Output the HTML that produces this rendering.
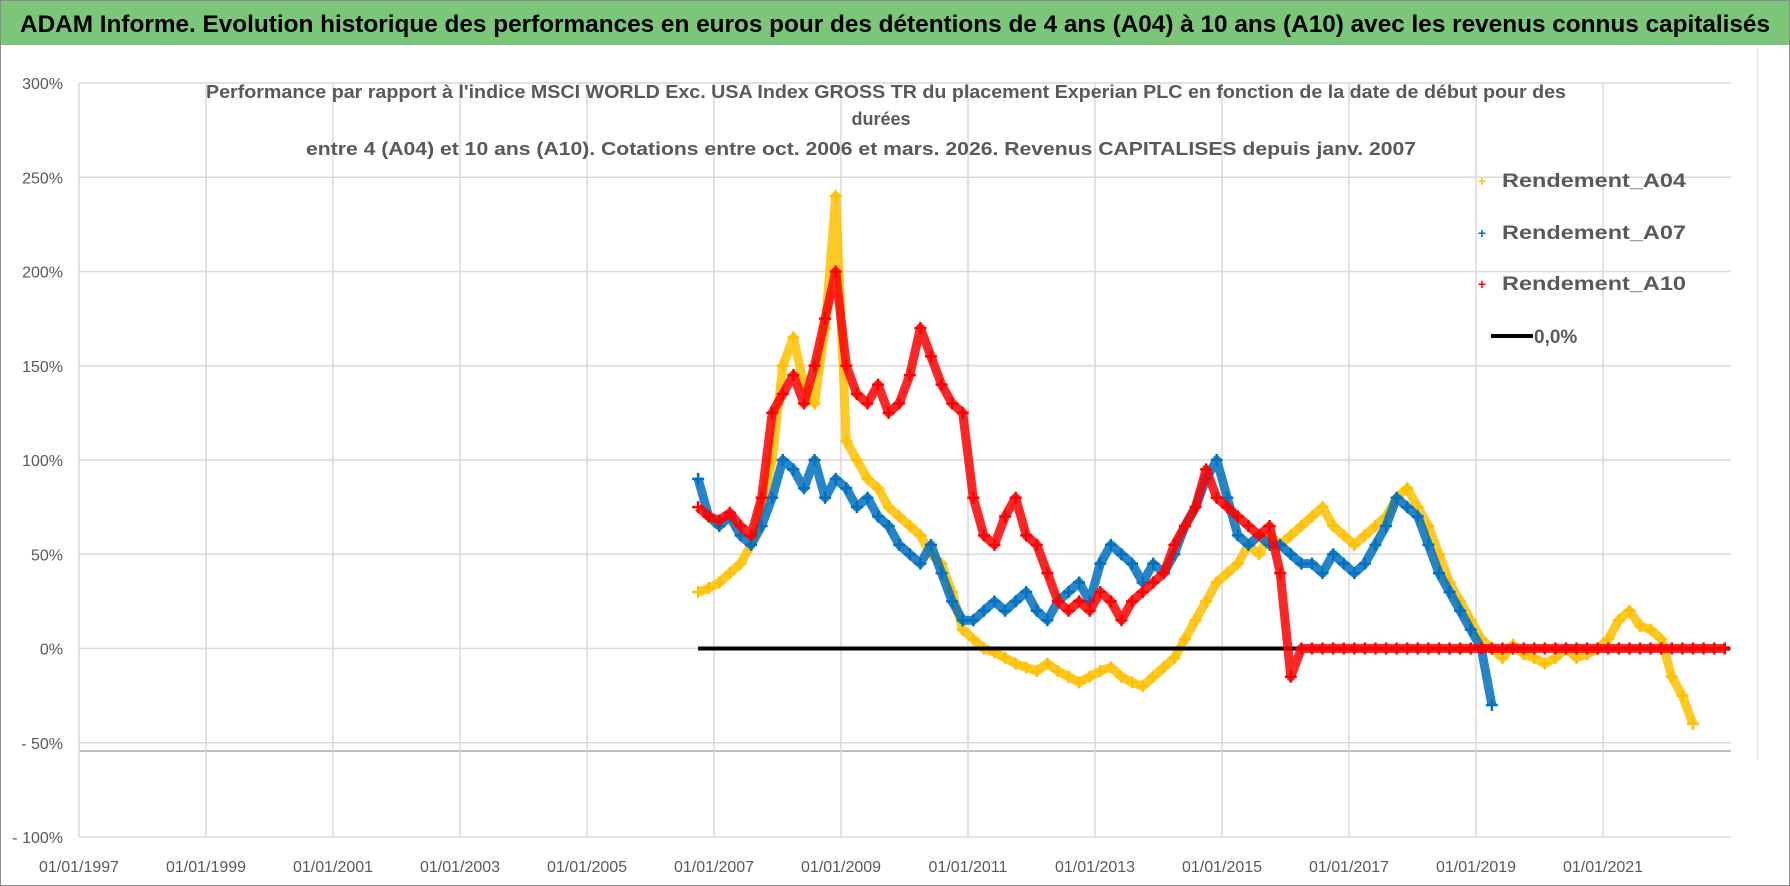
<!DOCTYPE html>
<html><head><meta charset="utf-8"><style>
html,body{margin:0;padding:0;background:#fff}
svg{display:block}
</style></head><body>
<svg id="chart" width="1790" height="886" viewBox="0 0 1790 886" xmlns="http://www.w3.org/2000/svg" font-family="'Liberation Sans', sans-serif">
<rect x="0.5" y="0.5" width="1789" height="885" fill="#fff" stroke="#8c8c8c"/>
<rect x="1" y="1" width="1788" height="44" fill="#7cc67a"/>
<text x="895" y="32" text-anchor="middle" font-size="24" font-weight="bold" fill="#000" textLength="1750" lengthAdjust="spacingAndGlyphs">ADAM Informe. Evolution historique des performances en euros pour des détentions de 4 ans (A04) à 10 ans (A10) avec les revenus connus capitalisés</text>
<line x1="1758" y1="48" x2="1758" y2="760" stroke="#d9d9d9"/>
<g id="grid"></g>
<g id="ylabels"></g>
<g id="xlabels"></g>
<text x="886" y="98" text-anchor="middle" font-size="18" font-weight="bold" fill="#595959" textLength="1360" lengthAdjust="spacingAndGlyphs">Performance par rapport à l'indice MSCI WORLD Exc. USA Index GROSS TR  du placement Experian PLC en fonction de la date de début pour des</text>
<text x="881" y="125" text-anchor="middle" font-size="18" font-weight="bold" fill="#595959">durées</text>
<text x="861" y="155" text-anchor="middle" font-size="18" font-weight="bold" fill="#595959" textLength="1110" lengthAdjust="spacingAndGlyphs">entre 4 (A04) et 10 ans (A10). Cotations entre oct. 2006 et mars. 2026. Revenus CAPITALISES depuis janv. 2007</text>
<g id="series"></g>
<g id="legend">
 <text x="1482" y="186" text-anchor="middle" font-size="14" font-weight="bold" fill="#FFC000">+</text>
 <text x="1502" y="187" font-size="19" font-weight="bold" fill="#595959" textLength="184" lengthAdjust="spacingAndGlyphs">Rendement_A04</text>
 <text x="1482" y="238" text-anchor="middle" font-size="14" font-weight="bold" fill="#0070C0">+</text>
 <text x="1502" y="239" font-size="19" font-weight="bold" fill="#595959" textLength="184" lengthAdjust="spacingAndGlyphs">Rendement_A07</text>
 <text x="1482" y="289" text-anchor="middle" font-size="14" font-weight="bold" fill="#FF0000">+</text>
 <text x="1502" y="290" font-size="19" font-weight="bold" fill="#595959" textLength="184" lengthAdjust="spacingAndGlyphs">Rendement_A10</text>
 <line x1="1491" y1="336" x2="1533" y2="336" stroke="#000" stroke-width="4"/>
 <text x="1534" y="343" font-size="19" font-weight="bold" fill="#595959">0,0%</text>
</g>
</svg>
<script>
const dates = ["2006-10","2006-12",
"2007-02","2007-04","2007-06","2007-08","2007-10","2007-12",
"2008-02","2008-04","2008-06","2008-08","2008-10","2008-12",
"2009-02","2009-04","2009-06","2009-08","2009-10","2009-12",
"2010-02","2010-04","2010-06","2010-08","2010-10","2010-12",
"2011-02","2011-04","2011-06","2011-08","2011-10","2011-12",
"2012-02","2012-04","2012-06","2012-08","2012-10","2012-12",
"2013-02","2013-04","2013-06","2013-08","2013-10","2013-12",
"2014-02","2014-04","2014-06","2014-08","2014-10","2014-12",
"2015-02","2015-04","2015-06","2015-08","2015-10","2015-12",
"2016-02","2016-04","2016-06","2016-08","2016-10","2016-12",
"2017-02","2017-04","2017-06","2017-08","2017-10","2017-12",
"2018-02","2018-04","2018-06","2018-08","2018-10","2018-12",
"2019-02","2019-04","2019-06","2019-08","2019-10","2019-12",
"2020-02","2020-04","2020-06","2020-08","2020-10","2020-12",
"2021-02","2021-04","2021-06","2021-08","2021-10","2021-12",
"2022-02","2022-04","2022-06","2022-08","2022-10","2022-12"];
const rendA04 = [30,32,
35,40,45,55,75,100,
150,165,140,130,170,240,
110,100,90,85,75,70,
65,60,50,45,30,10,
5,0,-2,-5,-8,-10,
-12,-8,-12,-15,-18,-15,
-12,-10,-15,-18,-20,-15,
-10,-5,5,15,25,35,
40,45,55,50,60,55,
60,65,70,75,65,60,
55,60,65,70,80,85,
75,65,50,35,25,15,
5,0,-5,2,-3,-5,
-8,-5,0,-5,-3,0,
5,15,20,12,10,5,
-15,-25,-40,null,null,null];
const rendA07 = [90,70,
65,70,60,55,65,80,
100,95,85,100,80,90,
85,75,80,70,65,55,
50,45,55,40,25,15,
15,20,25,20,25,30,
20,15,25,30,35,25,
45,55,50,45,35,45,
40,50,65,75,90,100,
80,60,55,60,55,55,
50,45,45,40,50,45,
40,45,55,65,80,75,
70,55,40,30,20,10,
0,-30,null,null,null,null,
null,null,null,null,null,null,
null,null,null,null,null,null,
null,null,null,null,null,null];
const rendA10 = [75,70,
68,72,65,60,80,125,
135,145,130,150,175,200,
150,135,130,140,125,130,
145,170,155,140,130,125,
80,60,55,70,80,60,
55,40,25,20,25,20,
30,25,15,25,30,35,
40,55,65,75,95,80,
75,70,65,60,65,40,
-15,0,0,0,0,0,
0,0,0,0,0,0,
0,0,0,0,0,0,
0,0,0,0,0,0,
0,0,0,0,0,0,
0,0,0,0,0,0,
0,0,0,0,0,0];
const zeroLine = [0,0];
const zeroDates = ["2006-10","2023-01"];
const yTicks = [300,250,200,150,100,50,0,-50,-100];
const yTickLabels = ["300%","250%","200%","150%","100%","50%","0%","- 50%","- 100%"];
const xTicks = [1997,1999,2001,2003,2005,2007,2009,2011,2013,2015,2017,2019,2021];
const xTickLabels = ["01/01/1997","01/01/1999","01/01/2001","01/01/2003","01/01/2005","01/01/2007","01/01/2009","01/01/2011","01/01/2013","01/01/2015","01/01/2017","01/01/2019","01/01/2021"];

const NS = "http://www.w3.org/2000/svg";
const X0 = 79, PXYR = 63.5, XR = 1731;
const Y0 = 648.5, PXPCT = 94.25/50;
function xOfYear(y){ return X0 + (y - 1997) * PXYR; }
function xOfDate(s){ const p = s.split("-"); return xOfYear(+p[0] + (+p[1] - 1) / 12); }
function yOf(v){ return Y0 - v * PXPCT; }
function mk(tag, attrs, parent){ const e = document.createElementNS(NS, tag); for (const k in attrs) e.setAttribute(k, attrs[k]); parent.appendChild(e); return e; }

const grid = document.getElementById("grid");
yTicks.forEach(function(v){
  const l = mk("line", {x1: X0, x2: XR, y1: yOf(v), y2: yOf(v), stroke: "#d9d9d9", "stroke-width": 1.5}, grid);
  
  
});
const extra = mk("line", {x1: X0, x2: XR, y1: 751, y2: 751, stroke: "#bfbfbf", "stroke-width": 2}, grid);


xTicks.forEach(function(t){
  const l = mk("line", {x1: xOfYear(t), x2: xOfYear(t), y1: yOf(300), y2: yOf(-100), stroke: "#d9d9d9", "stroke-width": 1.5}, grid);
  
  
});
const yl = document.getElementById("ylabels");
yTicks.forEach(function(v, i){
  const t = mk("text", {x: 63, y: yOf(v) + 6, "text-anchor": "end", "font-size": 16, fill: "#595959"}, yl);
  t.textContent = yTickLabels[i];
  
  
});
const xl = document.getElementById("xlabels");
xTicks.forEach(function(v, i){
  const t = mk("text", {x: xOfYear(v), y: 872, "text-anchor": "middle", "font-size": 16, fill: "#595959"}, xl);
  t.textContent = xTickLabels[i];
  
  
});

const ser = document.getElementById("series");
function drawSeries(name, ds, vals, color){
  const g = mk("g", {}, ser);
  
  
  let pts = [];
  const flush = function(){
    if (pts.length > 1) {
      const pl = mk("polyline", {points: pts.join(" "), fill: "none", stroke: color, "stroke-width": 9, "stroke-linejoin": "round", opacity: 0.85}, g);
      
      
    }
    pts = [];
  };
  vals.forEach(function(v, i){
    if (v === null) { flush(); return; }
    const x = xOfDate(ds[i]), y = yOf(v);
    pts.push(x + "," + y);
    const m = mk("path", {d: "M" + (x - 6) + " " + y + "h12M" + x + " " + (y - 6) + "v12", stroke: color, "stroke-width": 2.5}, g);
    
    
  });
  flush();
}
drawSeries("series-a04", dates, rendA04, "#FFC000");
drawSeries("series-a07", dates, rendA07, "#0070C0");
const zl = mk("line", {x1: xOfDate(zeroDates[0]), x2: xOfDate(zeroDates[1]), y1: yOf(zeroLine[0]), y2: yOf(zeroLine[1]), stroke: "#000", "stroke-width": 4}, ser);


drawSeries("series-a10", dates, rendA10, "#FF0000");
</script>
</body></html>
